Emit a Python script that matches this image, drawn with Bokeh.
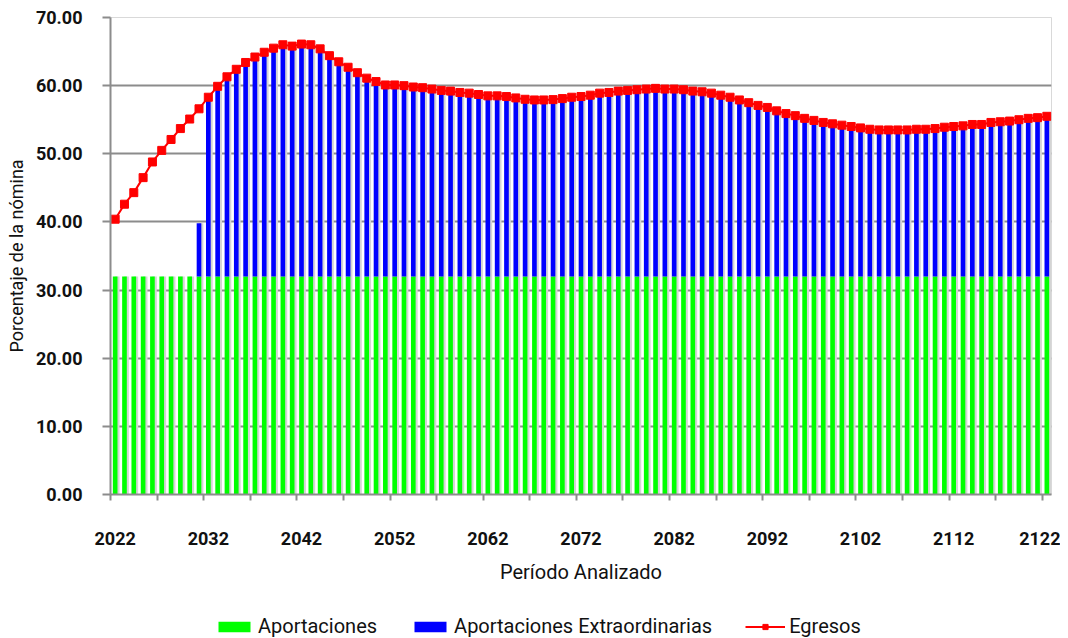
from bokeh.plotting import figure
from bokeh.layouts import column
from bokeh.models import (ColumnDataSource, FixedTicker, Legend, LegendItem,
                          NumeralTickFormatter, Range1d)
from bokeh.transform import dodge
from bokeh.embed import file_html
from bokeh.resources import INLINE

# ---------------- data ----------------
years = list(range(2022, 2123))

aportaciones = [32.0] * 101

aport_extra = [
    0, 0, 0, 0, 0, 0, 0, 0, 0, 7.8,                                   # 2022-2031
    26.3, 27.9, 29.3, 30.4, 31.4, 32.2, 32.9, 33.5, 34.0, 33.8,       # 2032-2041
    34.1, 34.0, 33.4, 32.4, 31.5, 30.7, 29.9, 29.1, 28.6, 28.1,       # 2042-2051
    28.1, 28.0, 27.8, 27.7, 27.5, 27.3, 27.2, 27.0, 26.9, 26.7,       # 2052-2061
    26.5, 26.5, 26.4, 26.2, 26.0, 25.9, 25.9, 25.95, 26.1, 26.3,      # 2062-2071
    26.4, 26.6, 26.9, 27.0, 27.2, 27.3, 27.4, 27.5, 27.6, 27.5,       # 2072-2081
    27.5, 27.4, 27.2, 27.1, 26.9, 26.6, 26.3, 25.9, 25.5, 25.1,       # 2082-2091
    24.8, 24.3, 23.9, 23.6, 23.2, 22.9, 22.6, 22.4, 22.2, 22.0,       # 2092-2101
    21.8, 21.6, 21.5, 21.5, 21.5, 21.5, 21.6, 21.6, 21.7, 21.9,       # 2102-2111
    22.0, 22.1, 22.3, 22.3, 22.6, 22.7, 22.8, 23.0, 23.2, 23.3,       # 2112-2121
    23.5,                                                             # 2122
]

egresos = [
    40.4, 42.6, 44.3, 46.5, 48.8, 50.5, 52.1, 53.7, 55.1, 56.6,       # 2022-2031
    58.3, 59.9, 61.3, 62.4, 63.4, 64.2, 64.9, 65.5, 66.0, 65.8,       # 2032-2041
    66.1, 66.0, 65.4, 64.4, 63.5, 62.7, 61.9, 61.1, 60.6, 60.1,       # 2042-2051
    60.1, 60.0, 59.8, 59.7, 59.5, 59.3, 59.2, 59.0, 58.9, 58.7,       # 2052-2061
    58.5, 58.5, 58.4, 58.2, 58.0, 57.9, 57.9, 57.95, 58.1, 58.3,      # 2062-2071
    58.4, 58.6, 58.9, 59.0, 59.2, 59.3, 59.4, 59.5, 59.6, 59.5,       # 2072-2081
    59.5, 59.4, 59.2, 59.1, 58.9, 58.6, 58.3, 57.9, 57.5, 57.1,       # 2082-2091
    56.8, 56.3, 55.9, 55.6, 55.2, 54.9, 54.6, 54.4, 54.2, 54.0,       # 2092-2101
    53.8, 53.6, 53.5, 53.5, 53.5, 53.5, 53.6, 53.6, 53.7, 53.9,       # 2102-2111
    54.0, 54.1, 54.3, 54.3, 54.6, 54.7, 54.8, 55.0, 55.2, 55.3,       # 2112-2121
    55.5,                                                             # 2122
]

label_years = [2022, 2032, 2042, 2052, 2062, 2072, 2082, 2092, 2102, 2112, 2122]
y_ticks = [0, 10, 20, 30, 40, 50, 60, 70]
series_names = ["Aportaciones", "Aportaciones Extraordinarias", "Egresos"]

GREEN, BLUE, RED = "#00ff00", "#0000ff", "#ff0000"
AXIS_GRAY = "#8c8c8c"
TXT = "#111111"

# ---------------- source (stacking) ----------------
ex_top = [a + e for a, e in zip(aportaciones, aport_extra)]
src = ColumnDataSource(dict(x=years, ap=aportaciones, ex=aport_extra, eg=egresos,
                            ex_top=ex_top))

# ---------------- main figure ----------------
p = figure(width=1060, height=600, output_backend="svg", toolbar_location=None,
           tools="", x_range=Range1d(2021.5, 2122.5), y_range=Range1d(0, 70),
           min_border_left=110, min_border_right=9, min_border_top=17,
           min_border_bottom=106)
p.background_fill_color = "white"
p.border_fill_color = "white"
p.outline_line_color = "#d9d9d9"
p.outline_line_width = 1

p.xgrid.grid_line_color = None
p.ygrid.ticker = FixedTicker(ticks=y_ticks)
p.ygrid.grid_line_color = AXIS_GRAY
p.ygrid.grid_line_width = 2

# bar shadows
p.vbar(x=dodge("x", 0.22), width=0.5, bottom=0, top="ex_top", source=src,
       fill_color="#d4d4d4", line_color=None)
# stacked bars
p.vbar(x="x", width=0.5, bottom=0, top="ap", source=src,
       fill_color=GREEN, line_color=None)
p.vbar(x="x", width=0.5, bottom="ap", top="ex_top", source=src,
       fill_color=BLUE, line_color=None)
# egresos line
p.line(x="x", y="eg", source=src, line_color=RED, line_width=2)
p.scatter(x="x", y="eg", source=src, marker="square", size=8,
          fill_color=RED, line_color=RED)

xa = p.xaxis[0]
xa.ticker = FixedTicker(ticks=label_years,
                        minor_ticks=[2021.5 + 5 * k for k in range(21)])
xa.formatter = NumeralTickFormatter(format="0")
xa.axis_line_color = AXIS_GRAY
xa.axis_line_width = 2
xa.major_tick_out = 6
xa.major_tick_in = 0
xa.major_tick_line_color = None
xa.minor_tick_out = 6
xa.minor_tick_in = 0
xa.minor_tick_line_color = AXIS_GRAY
xa.minor_tick_line_width = 2
xa.major_label_standoff = 31
xa.major_label_text_font = "Roboto"
xa.major_label_text_font_size = "18px"
xa.major_label_text_font_style = "bold"
xa.major_label_text_color = TXT
xa.axis_label = "Período Analizado"
xa.axis_label_text_font = "Roboto"
xa.axis_label_text_font_size = "20px"
xa.axis_label_text_font_style = "normal"
xa.axis_label_text_color = TXT
xa.axis_label_standoff = 12

ya = p.yaxis[0]
ya.ticker = FixedTicker(ticks=y_ticks)
ya.formatter = NumeralTickFormatter(format="0.00")
ya.axis_line_color = AXIS_GRAY
ya.axis_line_width = 2
ya.major_tick_out = 8
ya.major_tick_in = 0
ya.major_tick_line_color = AXIS_GRAY
ya.major_tick_line_width = 2
ya.minor_tick_line_color = None
ya.major_label_standoff = 20
ya.major_label_text_font = "Roboto"
ya.major_label_text_font_size = "18px"
ya.major_label_text_font_style = "bold"
ya.major_label_text_color = TXT
ya.axis_label = "Porcentaje de la nómina"
ya.axis_label_text_font = "Roboto"
ya.axis_label_text_font_size = "18px"
ya.axis_label_text_font_style = "normal"
ya.axis_label_text_color = TXT
ya.axis_label_standoff = 6

# ---------------- legend strip ----------------
# hidden copies of the series only supply the legend swatches
lg = figure(width=1060, height=38, output_backend="svg", toolbar_location=None,
            tools="", x_range=Range1d(2021.5, 2122.5), y_range=Range1d(0, 70),
            min_border=0)
lg.xaxis.visible = False
lg.yaxis.visible = False
lg.xgrid.grid_line_color = None
lg.ygrid.grid_line_color = None
lg.outline_line_color = None
lg.background_fill_color = "white"
lg.border_fill_color = "white"
g_ap = lg.vbar(x="x", width=0.5, bottom=0, top="ap", source=src,
               fill_color=GREEN, line_color=None, visible=False)
g_ex = lg.vbar(x="x", width=0.5, bottom="ap", top="ex_top", source=src,
               fill_color=BLUE, line_color=None, visible=False)
g_l = lg.line(x="x", y="eg", source=src, line_color=RED, line_width=2,
              visible=False)
g_m = lg.scatter(x="x", y="eg", source=src, marker="square", size=8,
                 fill_color=RED, line_color=RED, visible=False)

legend = Legend(items=[
    LegendItem(label=series_names[0], renderers=[g_ap]),
    LegendItem(label=series_names[1], renderers=[g_ex]),
    LegendItem(label=series_names[2], renderers=[g_l, g_m]),
], orientation="horizontal", location=(104, 0))
legend.border_line_color = None
legend.background_fill_alpha = 0
legend.inactive_fill_alpha = 0
legend.padding = 0
legend.margin = 0
legend.spacing = 33
legend.label_standoff = 4
legend.glyph_width = 40
legend.glyph_height = 13
legend.label_height = 13
legend.label_text_font = "Roboto"
legend.label_text_font_size = "20px"
legend.label_text_color = TXT
lg.add_layout(legend, "center")

layout = column(p, lg, spacing=0)
open("out.html", "w").write(file_html(layout, INLINE))
